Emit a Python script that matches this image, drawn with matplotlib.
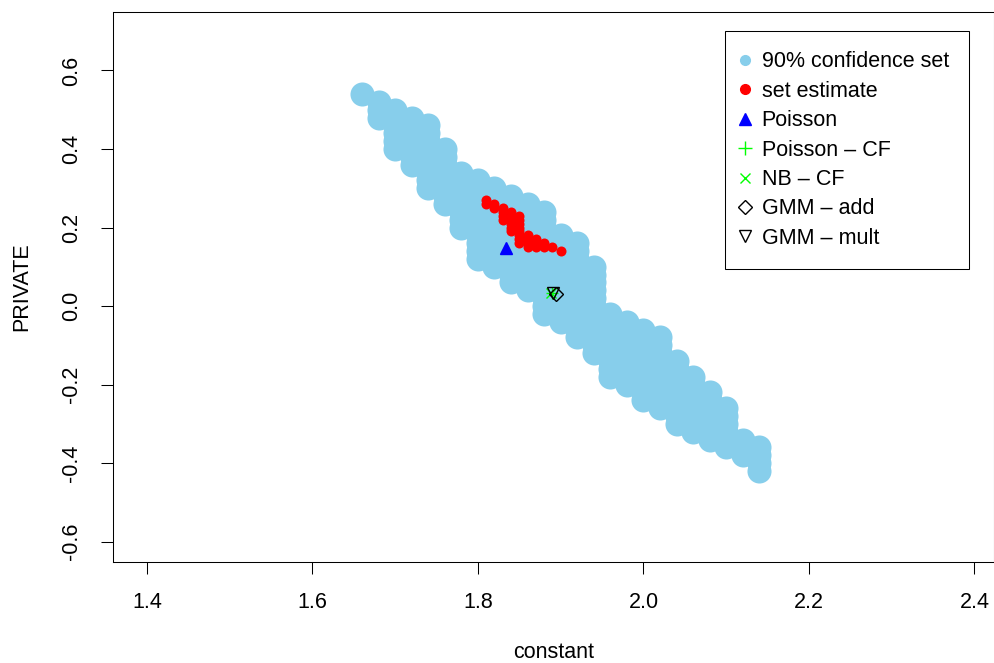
import numpy as np
import matplotlib
matplotlib.use("Agg")
import matplotlib.pyplot as plt
from matplotlib.lines import Line2D

plt.rcParams['font.family'] = ['Liberation Sans', 'DejaVu Sans']

# grid columns of the 90% confidence set (constant) with lowest/highest PRIVATE value kept
set_x = [1.66, 1.68, 1.70, 1.72, 1.74, 1.76, 1.78, 1.80, 1.82, 1.84, 1.86, 1.88, 1.90,
         1.92, 1.94, 1.96, 1.98, 2.00, 2.02, 2.04, 2.06, 2.08, 2.10, 2.12, 2.14]
set_top = [0.54, 0.52, 0.50, 0.48, 0.46, 0.40, 0.34, 0.32, 0.30, 0.28, 0.26, 0.24, 0.18,
           0.16, 0.10, -0.02, -0.04, -0.06, -0.08, -0.14, -0.18, -0.22, -0.26, -0.34, -0.36]
set_bottom = [0.54, 0.48, 0.40, 0.36, 0.30, 0.26, 0.20, 0.12, 0.10, 0.06, 0.04, -0.02, -0.04,
              -0.08, -0.12, -0.18, -0.20, -0.24, -0.26, -0.30, -0.32, -0.34, -0.36, -0.38, -0.42]
grid_step = 0.02

# set estimate
est_x = [1.81, 1.81, 1.82, 1.82,
         1.83, 1.83, 1.83, 1.83,
         1.84, 1.84, 1.84, 1.84, 1.84, 1.84,
         1.85, 1.85, 1.85, 1.85, 1.85, 1.85, 1.85, 1.85,
         1.86, 1.86, 1.86, 1.86,
         1.87, 1.87, 1.87,
         1.88, 1.88, 1.89, 1.90]
est_y = [0.27, 0.26, 0.26, 0.25,
         0.25, 0.24, 0.23, 0.22,
         0.24, 0.23, 0.22, 0.21, 0.20, 0.19,
         0.23, 0.22, 0.21, 0.20, 0.19, 0.18, 0.17, 0.16,
         0.18, 0.17, 0.16, 0.15,
         0.17, 0.16, 0.15,
         0.16, 0.15, 0.15, 0.14]

# point estimates (constant, PRIVATE)
poisson = (1.834, 0.148)
poisson_cf = (1.889, 0.033)
nb_cf = (1.888, 0.032)
gmm_add = (1.894, 0.030)
gmm_mult = (1.891, 0.033)

xticks = [1.4, 1.6, 1.8, 2.0, 2.2, 2.4]
yticks = [-0.6, -0.4, -0.2, 0.0, 0.2, 0.4, 0.6]

cs_x, cs_y = [], []
for x, lo, hi in zip(set_x, set_bottom, set_top):
    ys = np.arange(lo, hi + grid_step / 2, grid_step)
    cs_x += [x] * len(ys)
    cs_y += list(ys)

fig = plt.figure(figsize=(9.95, 6.63), dpi=100)
ax = fig.add_axes([113 / 995, 101 / 663, 881 / 995, 550 / 663])

ax.scatter(cs_x, cs_y, s=300, color='skyblue', linewidths=0, zorder=2)
ax.scatter(est_x, est_y, s=52, color='red', linewidths=0, zorder=3)
ax.plot(*poisson, marker='^', color='blue', ms=8.5, ls='none', zorder=4)
ax.plot(*poisson_cf, marker='+', color='#00FF00', ms=9, mew=1, ls='none', zorder=4)
ax.plot(*nb_cf, marker='x', color='#00FF00', ms=7, mew=1, ls='none', zorder=4)
ax.plot(*gmm_add, marker='D', mfc='none', mec='black', ms=7, mew=1, ls='none', zorder=5)
ax.plot(*gmm_mult, marker='v', mfc='none', mec='black', ms=8, mew=1, ls='none', zorder=5)

ax.set_xlim(1.359, 2.4236)
ax.set_ylim(-0.652, 0.749)
ax.set_xticks(xticks)
ax.set_yticks(yticks)
ax.set_xticklabels([f"{t:.1f}" for t in xticks])
ax.set_yticklabels([f"{t:.1f}" for t in yticks], rotation=90, va='center')
ax.tick_params(direction='out', length=8.5, width=0.75, labelsize=15.5)
ax.tick_params(axis='x', pad=13)
ax.tick_params(axis='y', pad=14)
for s in ax.spines.values():
    s.set_linewidth(0.75)

ax.set_xlabel("constant", fontsize=15.5)
ax.set_ylabel("PRIVATE", fontsize=15.5)
ax.xaxis.set_label_coords(0.5, (562 - 653) / 550)
ax.xaxis.label.set_va('center')
ax.yaxis.set_label_coords((22 - 113) / 881, 0.5)
ax.yaxis.label.set_va('center')

handles = [
    Line2D([], [], marker='o', color='skyblue', ms=7, ls='none'),
    Line2D([], [], marker='o', color='red', ms=7, ls='none'),
    Line2D([], [], marker='^', color='blue', ms=8, ls='none'),
    Line2D([], [], marker='+', color='#00FF00', ms=10, mew=1, ls='none'),
    Line2D([], [], marker='x', color='#00FF00', ms=7.5, mew=1, ls='none'),
    Line2D([], [], marker='D', mfc='none', mec='black', ms=7, mew=1, ls='none'),
    Line2D([], [], marker='v', mfc='none', mec='black', ms=8, mew=1, ls='none'),
]
labels = ["90% confidence set", "set estimate", "Poisson", "Poisson \u2013 CF",
          "NB \u2013 CF", "GMM \u2013 add", "GMM \u2013 mult"]
leg = ax.legend(handles, labels, loc='upper left',
                bbox_to_anchor=((725 - 113) / 881, (562 - 31) / 550),
                borderaxespad=0, fontsize=15.5, fancybox=False, framealpha=1,
                edgecolor='black', handlelength=0.0, handletextpad=0.75,
                labelspacing=0.39, borderpad=0.95)
leg.get_frame().set_linewidth(0.75)

fig.savefig("out.png", dpi=100)
